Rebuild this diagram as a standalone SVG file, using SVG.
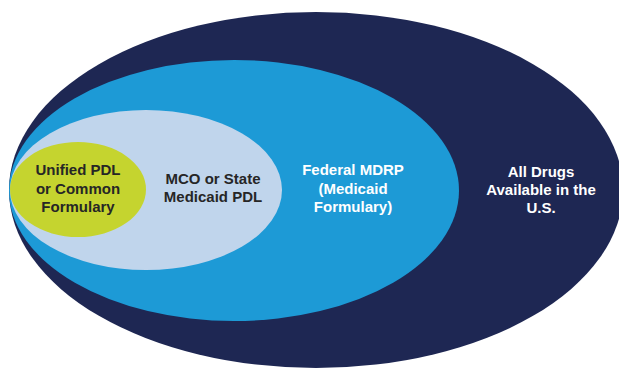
<svg xmlns="http://www.w3.org/2000/svg" width="619" height="370" viewBox="0 0 619 370">
<style>
.lbl{font-family:"Liberation Sans",Arial,sans-serif;font-weight:bold;font-size:15px;text-anchor:middle}
.dark{fill:#262626}
.light{fill:#ffffff}
</style>
<rect width="619" height="370" fill="#ffffff"/>
<g id="all-drugs">
<ellipse cx="316" cy="190" rx="307" ry="178" fill="#1e2753"/>
<text class="lbl light" x="541" y="177">All Drugs</text>
<text class="lbl light" x="541" y="195">Available in the</text>
<text class="lbl light" x="541" y="213">U.S.</text>
</g>
<g id="federal-mdrp">
<ellipse cx="234" cy="190.5" rx="225" ry="130.5" fill="#1d9ad6"/>
<text class="lbl light" x="353" y="175">Federal MDRP</text>
<text class="lbl light" x="353" y="193.5">(Medicaid</text>
<text class="lbl light" x="353" y="212">Formulary)</text>
</g>
<g id="mco-state-pdl">
<ellipse cx="146" cy="190" rx="136" ry="80" fill="#c0d5ec"/>
<text class="lbl dark" x="213" y="183.5">MCO or State</text>
<text class="lbl dark" x="213" y="202">Medicaid PDL</text>
</g>
<g id="unified-pdl">
<ellipse cx="78" cy="189.5" rx="68" ry="47.5" fill="#c5d42f"/>
<text class="lbl dark" x="78" y="175">Unified PDL</text>
<text class="lbl dark" x="78" y="193.5">or Common</text>
<text class="lbl dark" x="78" y="212">Formulary</text>
</g>
<g id="connectors"></g>
</svg>
